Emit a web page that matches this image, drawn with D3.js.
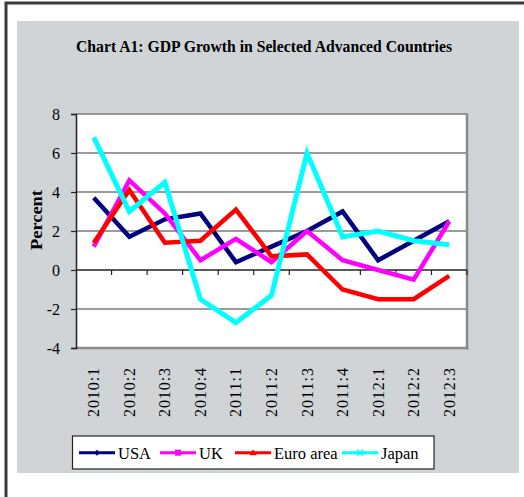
<!DOCTYPE html>
<html>
<head>
<meta charset="utf-8">
<script src="https://cdn.jsdelivr.net/npm/d3@7"></script>
<style>
  html, body { margin: 0; padding: 0; background: #ffffff; }
  svg { display: block; }
  text { font-family: "Liberation Serif", "Times New Roman", serif; fill: #000; }
</style>
</head>
<body>
<svg id="chart" width="524" height="497"></svg>
<script>
// Quarterly GDP growth, percent
const quarters = ["2010:1","2010:2","2010:3","2010:4","2011:1","2011:2","2011:3","2011:4","2012:1","2012:2","2012:3"];
const usa      = [3.7, 1.7, 2.6, 2.9, 0.4, 1.2, 2.0, 3.0, 0.5, 1.5, 2.5];
const uk       = [1.2, 4.6, 2.9, 0.5, 1.6, 0.4, 2.0, 0.5, 0.0, -0.5, 2.5];
const euroArea = [1.4, 4.1, 1.4, 1.5, 3.1, 0.7, 0.8, -1.0, -1.5, -1.5, -0.3];
const japan    = [6.8, 3.0, 4.5, -1.5, -2.7, -1.3, 6.0, 1.7, 2.0, 1.5, 1.3];
const seriesNames = ["USA", "UK", "Euro area", "Japan"];
const yTicks = [-4, -2, 0, 2, 4, 6, 8];

const series = [
  { name: seriesNames[0], values: usa,      color: "#000080", width: 4.5, marker: "diamond" },
  { name: seriesNames[1], values: uk,       color: "#ff00ff", width: 4.5, marker: "square" },
  { name: seriesNames[2], values: euroArea, color: "#ff0000", width: 4.5, marker: "triangle" },
  { name: seriesNames[3], values: japan,    color: "#00ffff", width: 5,   marker: "cross" }
];

const svg = d3.select("#chart");

// outer frame and grey panel
svg.append("rect").attr("x", 6).attr("y", 3).attr("width", 530).attr("height", 510)
  .attr("fill", "#ffffff").attr("stroke", "#3a3a3a").attr("stroke-width", 3);
svg.append("rect").attr("x", 17).attr("y", 21).attr("width", 502).attr("height", 452)
  .attr("fill", "#d0d4d7");

svg.append("text").attr("x", 264).attr("y", 52).attr("text-anchor", "middle")
  .attr("font-size", 16.5).attr("font-weight", "bold")
  .attr("textLength", 376).attr("lengthAdjust", "spacingAndGlyphs")
  .text("Chart A1: GDP Growth in Selected Advanced Countries");

const plot = { left: 76, right: 467, top: 114, bottom: 348 };

const x = d3.scaleBand().domain(quarters).range([plot.left, plot.right]);
const y = d3.scaleLinear().domain([-4, 8]).range([plot.bottom, plot.top]);

// plot area
svg.append("rect").attr("x", plot.left).attr("y", plot.top)
  .attr("width", plot.right - plot.left).attr("height", plot.bottom - plot.top)
  .attr("fill", "#ffffff");

// horizontal gridlines
svg.append("g").selectAll("line").data(yTicks.filter(t => t !== 0 && t !== -4))
  .join("line")
  .attr("x1", plot.left).attr("x2", plot.right)
  .attr("y1", d => y(d)).attr("y2", d => y(d))
  .attr("stroke", "#7a7a7a").attr("stroke-width", 1.5);

// right and bottom frame of the plot area
svg.append("line").attr("x1", plot.right).attr("x2", plot.right)
  .attr("y1", plot.top - 0.75).attr("y2", plot.bottom + 1.5)
  .attr("stroke", "#8a8a8a").attr("stroke-width", 2.5);
svg.append("line").attr("x1", plot.left).attr("x2", plot.right + 1.2)
  .attr("y1", plot.bottom).attr("y2", plot.bottom)
  .attr("stroke", "#8a8a8a").attr("stroke-width", 2.5);

// y axis (plain hyphen for negatives)
const yAxis = d3.axisLeft(y).tickValues(yTicks).tickSize(5).tickPadding(11)
  .tickFormat(d => String(d));
const yg = svg.append("g").attr("transform", `translate(${plot.left},0)`).call(yAxis);
yg.select(".domain").attr("stroke", "#222").attr("stroke-width", 1.5);
yg.selectAll(".tick line").attr("stroke", "#222").attr("stroke-width", 1.2);
yg.selectAll(".tick text").attr("font-family", "Liberation Serif").attr("font-size", 16)
  .attr("fill", "#000");

// category axis on the zero line, ticks between categories
const boundaries = quarters.map(q => x(q)).concat([plot.right]).slice(1);
svg.append("line").attr("x1", plot.left).attr("x2", plot.right)
  .attr("y1", y(0)).attr("y2", y(0)).attr("stroke", "#222").attr("stroke-width", 1.5);
svg.append("g").selectAll("line").data(boundaries).join("line")
  .attr("x1", d => d).attr("x2", d => d)
  .attr("y1", y(0)).attr("y2", y(0) + 5)
  .attr("stroke", "#222").attr("stroke-width", 1.2);

// rotated category labels below the plot
svg.append("g").selectAll("text").data(quarters).join("text")
  .attr("transform", d => `translate(${x(d) + x.bandwidth() / 2 + 5.5},368) rotate(-90)`)
  .attr("text-anchor", "end")
  .attr("font-size", 16)
  .attr("textLength", 49).attr("lengthAdjust", "spacing")
  .text(d => d);

// axis title
svg.append("text").attr("transform", "translate(42,220) rotate(-90)")
  .attr("text-anchor", "middle").attr("font-size", 16.5).attr("font-weight", "bold")
  .attr("textLength", 60).attr("lengthAdjust", "spacingAndGlyphs")
  .text("Percent");

// series lines
const line = d3.line()
  .x((d, i) => x(quarters[i]) + x.bandwidth() / 2)
  .y(d => y(d));

svg.append("g").selectAll("path").data(series).join("path")
  .attr("d", s => line(s.values))
  .attr("fill", "none")
  .attr("stroke", s => s.color)
  .attr("stroke-width", s => s.width)
  .attr("stroke-linejoin", "miter")
  .attr("stroke-miterlimit", 4);

// legend
const legendBox = { x: 72.5, y: 436, w: 361.5, h: 33 };
const legendX = [79, 160, 235, 342];
const legendLineY = 452.7;
svg.append("rect").attr("x", legendBox.x).attr("y", legendBox.y)
  .attr("width", legendBox.w).attr("height", legendBox.h)
  .attr("fill", "#ffffff").attr("stroke", "#222").attr("stroke-width", 1.2);

const items = svg.append("g").selectAll("g").data(series).join("g")
  .attr("transform", (s, i) => `translate(${legendX[i]},${legendLineY})`);
items.append("line").attr("x1", 0).attr("x2", 36).attr("y1", 0).attr("y2", 0)
  .attr("stroke", s => s.color).attr("stroke-width", 3);
items.each(function (s) {
  const g = d3.select(this);
  const cx = 18;
  if (s.marker === "diamond") {
    g.append("path").attr("d", `M${cx - 3},0L${cx},-3L${cx + 3},0L${cx},3Z`).attr("fill", s.color);
  } else if (s.marker === "square") {
    g.append("rect").attr("x", cx - 3).attr("y", -3).attr("width", 6).attr("height", 6).attr("fill", s.color);
  } else if (s.marker === "triangle") {
    g.append("path").attr("d", `M${cx - 3.5},2.5L${cx},-3.5L${cx + 3.5},2.5Z`).attr("fill", s.color);
  } else {
    g.append("path").attr("d", `M${cx - 3},-3L${cx + 3},3M${cx - 3},3L${cx + 3},-3`)
      .attr("stroke", s.color).attr("stroke-width", 1.5);
  }
});
items.append("text").attr("x", 39).attr("y", 6).attr("font-size", 16.5)
  .text(s => s.name);
</script>
</body>
</html>
